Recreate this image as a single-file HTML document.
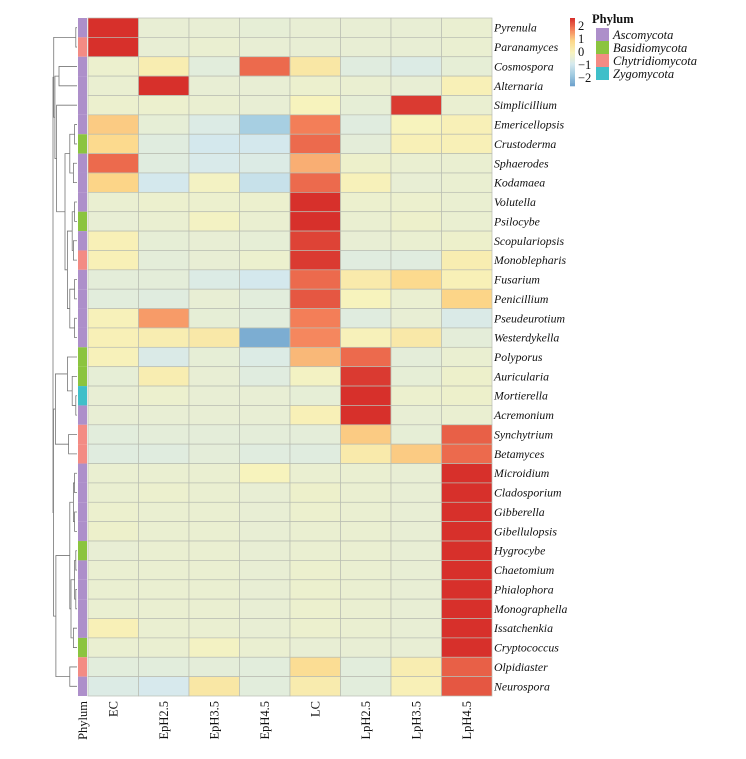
<!DOCTYPE html>
<html><head><meta charset="utf-8"><style>
body{margin:0;background:#fff;width:746px;height:754px;overflow:hidden;font-family:"Liberation Serif",serif}
</style></head><body>
<svg id="chart" width="746" height="754" xmlns="http://www.w3.org/2000/svg"></svg>
<script>
const samples=["EC","EpH2.5","EpH3.5","EpH4.5","LC","LpH2.5","LpH3.5","LpH4.5"];
const taxa=["Pyrenula","Paranamyces","Cosmospora","Alternaria","Simplicillium","Emericellopsis","Crustoderma","Sphaerodes","Kodamaea","Volutella","Psilocybe","Scopulariopsis","Monoblepharis","Fusarium","Penicillium","Pseudeurotium","Westerdykella","Polyporus","Auricularia","Mortierella","Acremonium","Synchytrium","Betamyces","Microidium","Cladosporium","Gibberella","Gibellulopsis","Hygrocybe","Chaetomium","Phialophora","Monographella","Issatchenkia","Cryptococcus","Olpidiaster","Neurospora"];
const phylum=[0,2,0,0,0,0,1,0,0,0,1,0,2,0,0,0,0,1,1,3,0,2,2,0,0,0,0,1,0,0,0,0,1,2,0];
const phylaNames=["Ascomycota","Basidiomycota","Chytridiomycota","Zygomycota"];
const values=[
[2.6,-.4,-.4,-.45,-.4,-.4,-.4,-.35],
[2.6,-.4,-.35,-.4,-.4,-.4,-.4,-.35],
[-.3,0.2,-.55,2.0,0.4,-.6,-.7,-.45],
[-.35,2.6,-.4,-.4,-.3,-.35,-.4,0.1],
[-.3,-.3,-.35,-.4,0,-.45,2.5,-.35],
[1.0,-.45,-.7,-1.6,1.8,-.6,0,0.1],
[0.8,-.6,-.9,-.9,2.0,-.5,0.1,0.1],
[2.0,-.6,-.8,-.7,1.3,-.25,-.35,-.35],
[0.9,-.9,-.1,-1.1,2.0,0.05,-.4,-.35],
[-.35,-.3,-.3,-.3,2.6,-.3,-.3,-.35],
[-.4,-.35,-.1,-.35,2.6,-.35,-.25,-.35],
[0.1,-.45,-.4,-.45,2.4,-.4,-.35,-.25],
[0.1,-.5,-.4,-.3,2.5,-.6,-.6,0.2],
[-.5,-.5,-.7,-.9,2.0,0.3,0.8,0.1],
[-.55,-.6,-.4,-.55,2.2,0,-.35,0.9],
[0.05,1.5,-.45,-.55,1.8,-.6,-.4,-.75],
[0.1,0.2,0.35,-2.3,1.7,0.05,0.35,-.5],
[0.05,-.75,-.45,-.7,1.2,2.0,-.5,-.35],
[-.45,0.2,-.4,-.6,-.1,2.5,-.45,-.25],
[-.4,-.3,-.4,-.4,-.45,2.6,-.3,-.25],
[-.4,-.4,-.4,-.4,0.1,2.6,-.4,-.35],
[-.55,-.5,-.5,-.5,-.5,1.0,-.45,2.1],
[-.6,-.6,-.5,-.6,-.6,0.3,1.0,2.0],
[-.35,-.35,-.35,0,-.35,-.35,-.4,2.6],
[-.35,-.3,-.35,-.4,-.25,-.35,-.4,2.6],
[-.3,-.35,-.35,-.4,-.3,-.35,-.4,2.6],
[-.25,-.35,-.35,-.4,-.35,-.35,-.4,2.6],
[-.4,-.35,-.35,-.4,-.35,-.35,-.4,2.6],
[-.35,-.35,-.35,-.4,-.3,-.35,-.4,2.6],
[-.35,-.35,-.35,-.4,-.3,-.35,-.4,2.6],
[-.35,-.35,-.35,-.4,-.3,-.35,-.4,2.6],
[0.1,-.35,-.35,-.4,-.3,-.35,-.4,2.6],
[-.35,-.35,-.1,-.35,-.4,-.4,-.4,2.6],
[-.55,-.55,-.5,-.55,0.7,-.55,0.2,2.1],
[-.7,-.85,0.4,-.55,0.25,-.55,0.1,2.2]];
const colorTicks=[2,1,0,-1,-2];

const NS="http://www.w3.org/2000/svg";
const svg=document.getElementById("chart");
function el(t,a,p){const e=document.createElementNS(NS,t);for(const k in a)e.setAttribute(k,a[k]);(p||svg).appendChild(e);return e;}
const X0=88,Y0=18,CW=50.5,RH=(696-18)/35;
const pal=["#6a9ecb","#9fcae0","#d6e9ee","#f7f3bd","#fcd88a","#f5845c","#d7302b"];
const phyCol=["#ad8fca","#8bc43f","#f38b84","#3fbfc9"];
function hex(h){return [1,3,5].map(i=>parseInt(h.substr(i,2),16));}
function color(v){let t=(v+2.6)/5.2*6;t=Math.max(0,Math.min(6,t));const i=Math.min(5,Math.floor(t)),f=t-i;const a=hex(pal[i]),b=hex(pal[i+1]);return "rgb("+a.map((x,k)=>Math.round(x+(b[k]-x)*f)).join(",")+")";}
function xs(j){return X0+j*CW;}
function ys(i){return Y0+i*RH;}
values.forEach((row,i)=>row.forEach((v,j)=>{
 const r=el("rect",{x:xs(j),y:ys(i),width:CW,height:RH,fill:color(v),stroke:"#b9bdb2","stroke-width":0.7});
 
 
}));
phylum.forEach((p,i)=>{
 const r=el("rect",{x:78,y:ys(i),width:9,height:RH,fill:phyCol[p]});
 
 
});
taxa.forEach((t,i)=>{
 const tx=el("text",{x:494,y:ys(i)+RH/2+4,"font-size":11.8,"font-style":"italic",fill:"#111"});
 tx.textContent=t;
 
 
});
samples.forEach((s,j)=>{
 const cx=xs(j)+CW/2+4,cy=701;
 const tx=el("text",{x:cx,y:cy,"font-size":12.5,"text-anchor":"end",transform:"rotate(-90 "+cx+" "+cy+")",fill:"#111"});
 tx.textContent=s;
 
 
});
{const cx=87,cy=701;const tx=el("text",{x:cx,y:cy,"font-size":12.5,"text-anchor":"end",transform:"rotate(-90 "+cx+" "+cy+")",fill:"#111"});tx.textContent="Phylum";

}
function n(h,a,b){return {h,a,b};}
const g3=n(.5,n(.3,n(.1,5,6),n(.15,7,8)),n(.4,n(.2,n(.1,9,10),n(.15,11,12)),n(.3,n(.1,13,14),n(.1,15,16))));
const g6=n(.97,n(.05,0,1),n(.92,n(.75,2,3),n(.85,4,g3)));
const g7=n(.9,n(.4,17,n(.2,18,n(.05,19,20))),n(.35,21,22));
const g8=n(.88,n(.3,n(.15,n(.1,23,24),n(.1,25,26)),n(.25,n(.1,n(.05,27,28),n(.05,29,30)),n(.15,31,32))),n(.3,33,34));
const tree=n(1,g6,n(.98,g7,g8));
const dx=h=>77-h*24;
const dg=el("g",{stroke:"#777","stroke-width":0.8,fill:"none"});


function draw(nd){
 if(typeof nd==="number")return {y:ys(nd)+RH/2,x:77};
 const A=draw(nd.a),B=draw(nd.b),x=dx(nd.h);
 el("path",{d:`M${A.x},${A.y}H${x}V${B.y}H${B.x}`},dg);
 return {y:(A.y+B.y)/2,x};
}
draw(tree);
const cb=el("g",{});


for(let k=0;k<60;k++){const v=2.6-k*5.2/60;el("rect",{x:570,y:18+k*68/60,width:5,height:68/60+0.3,fill:color(v)},cb);}
colorTicks.forEach(v=>{const y=18+(2.6-v)/5.2*68;const t=el("text",{x:578,y:y+4,"font-size":12.5,fill:"#111"},cb);t.textContent=v<0?"\u2212"+(-v):String(v);});
const lg=el("g",{});


const tt=el("text",{x:592,y:23,"font-size":12.5,"font-weight":"bold",fill:"#111"},lg);tt.textContent="Phylum";
phylaNames.forEach((p,k)=>{el("rect",{x:596,y:28+k*13,width:13,height:13,fill:phyCol[k]},lg);const t=el("text",{x:613,y:39+k*13,"font-size":12.5,"font-style":"italic",fill:"#111"},lg);t.textContent=p;});
</script>
</body></html>
